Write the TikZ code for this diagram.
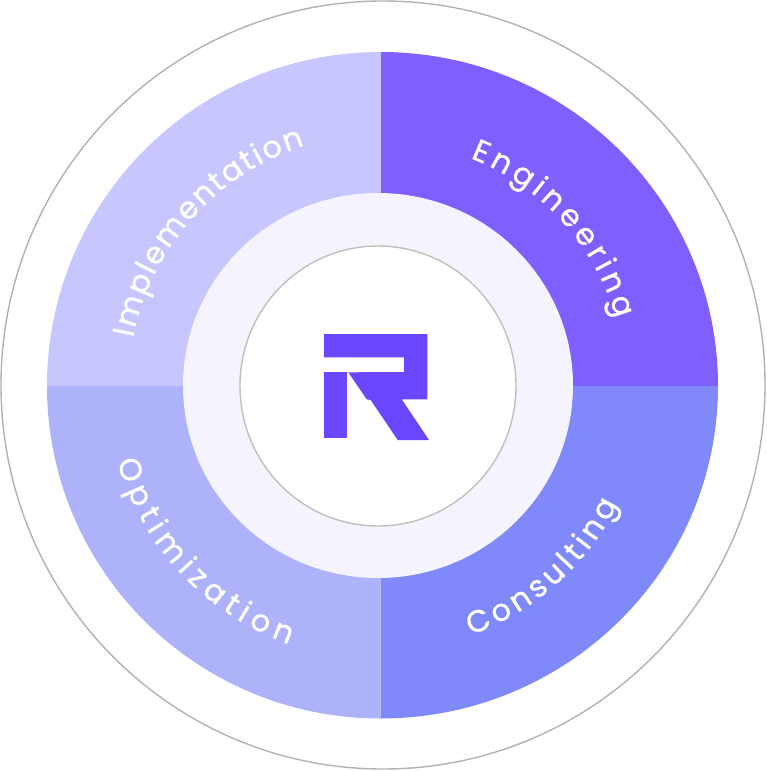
\documentclass[tikz,border=0pt]{standalone}
\usepackage{fontspec}
\setmainfont{Poppins}[FakeBold=0.8]
\usetikzlibrary{decorations.text}
\definecolor{engcolor}{HTML}{7F5FFF}
\definecolor{concolor}{HTML}{8089F9}
\definecolor{optcolor}{HTML}{ADB2FB}
\definecolor{impcolor}{HTML}{C7C6FF}
\definecolor{hubcolor}{HTML}{F5F3FE}
\definecolor{logocolor}{HTML}{6A46FF}
\newcommand{\ringfont}{\fontsize{30.5}{31}\selectfont\color{white}}
\begin{document}
\begin{tikzpicture}[
    x=1pt, y=1pt,
    wedge/.style={fill=#1, draw=none},
    hairline/.style={draw=#1, line width=1.4pt},
    ringlabel/.style={decorate, decoration={text along path, text align={fit to path}, text={|\ringfont|#1}}}
]
\useasboundingbox (0,0) rectangle (766,-771);
\fill[white] (0,0) rectangle (766,-771);

\coordinate (hub) at (380.5,-386);

\draw[hairline=black!30] (383,-385) ellipse (382 and 384);

\fill[wedge=engcolor] (hub) -- (380.5,-52) arc[start angle=90, end angle=0, x radius=337.5, y radius=334] -- cycle;
\fill[wedge=concolor] (hub) -- (718,-386) arc[start angle=0, end angle=-90, x radius=337.5, y radius=332.5] -- cycle;
\fill[wedge=optcolor] (hub) -- (380.5,-718.5) arc[start angle=270, end angle=180, x radius=333.5, y radius=332.5] -- cycle;
\fill[wedge=impcolor] (hub) -- (47,-386) arc[start angle=180, end angle=90, x radius=333.5, y radius=334] -- cycle;

\fill[hubcolor] (378,-385.5) ellipse (195 and 192.5);
\draw[hairline=black!25, fill=white] (378,-386) ellipse (138 and 140);

\fill[logocolor] (324,-334) -- (427.3,-334) -- (427.3,-399.3) -- (401.7,-399.3) -- (429,-440) -- (397.7,-440)
    -- (370.7,-400) -- (366.7,-399.3) -- (348.3,-372.3) -- (404,-372) -- (404,-357.3) -- (324,-357.3) -- cycle;
\fill[logocolor] (324,-372) rectangle (347.3,-437.5);

\path[ringlabel={Engineering}] (hub) ++(68.5:245) arc[start angle=68.5, end angle=16, radius=245];
\path[ringlabel={Implementation}] (hub) ++(169:252) arc[start angle=169, end angle=107.5, radius=252];
\path[ringlabel={Optimization}] (hub) ++(196:274) arc[start angle=196, end angle=250.5, radius=274];
\path[ringlabel={Consulting}] (hub) ++(-70:265) arc[start angle=-70, end angle=-26.5, radius=265];
\end{tikzpicture}
\end{document}
